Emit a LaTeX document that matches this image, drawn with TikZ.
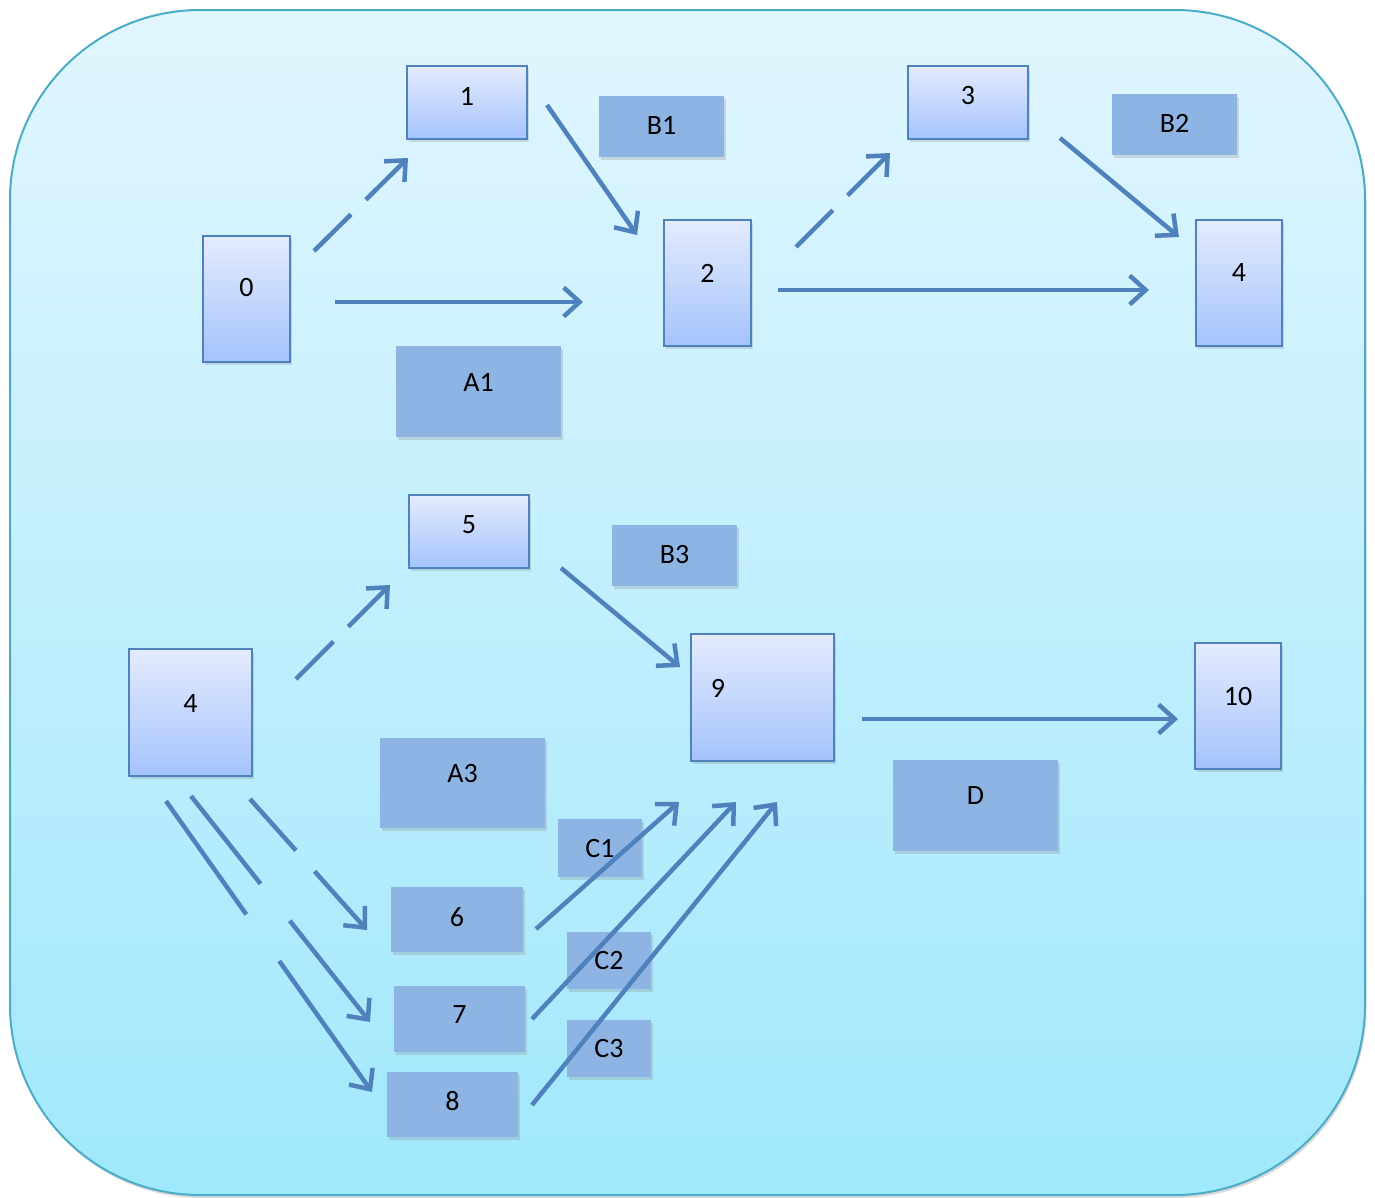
\documentclass[tikz,border=0pt]{standalone}
\usepackage{fontspec}
\setmainfont{Carlito}
\usetikzlibrary{arrows.meta,shadows}
\definecolor{frameline}{RGB}{75,172,198}
\definecolor{frametop}{RGB}{225,246,254}
\definecolor{framebot}{RGB}{160,232,252}
\definecolor{boxline}{RGB}{79,129,189}
\definecolor{boxtop}{RGB}{228,235,254}
\definecolor{boxbot}{RGB}{164,195,252}
\definecolor{flatfill}{RGB}{142,180,227}
\definecolor{arrowblue}{RGB}{79,129,189}
\begin{document}
\begin{tikzpicture}[x=1pt,y=-1pt,
  shd/.style={drop shadow={shadow xshift=1.5pt,shadow yshift=-3pt,opacity=0.25}},
  gbox/.style={draw=boxline, line width=2pt, top color=boxtop, bottom color=boxbot, inner sep=0pt, shd},
  fbox/.style={fill=flatfill, inner sep=0pt, shd},
  lbl/.style={font=\fontsize{28}{33}\selectfont, inner sep=0pt, text=black},
  arr/.style={draw=arrowblue, line width=4.5pt, -{Straight Barb[length=16pt,width=29pt]}}
]
\useasboundingbox (0,0) rectangle (1375,1197);
% frame
\draw[frameline, line width=2pt, top color=frametop, bottom color=framebot,
      rounded corners=190pt, drop shadow={shadow xshift=1.5pt,shadow yshift=-3pt,opacity=0.3}]
  (10,10) rectangle (1365,1195);

% gradient boxes
\node[gbox, minimum width=87pt, minimum height=126pt, label={[lbl,yshift=11pt]center:0}] (n0) at (246.5,299) {};
\node[gbox, minimum width=120pt, minimum height=73pt, label={[lbl,yshift=6.5pt]center:1}] (n1) at (467,102.5) {};
\node[gbox, minimum width=87pt, minimum height=126pt, label={[lbl,yshift=10pt]center:2}] (n2) at (707.5,283) {};
\node[gbox, minimum width=120pt, minimum height=73pt, label={[lbl,yshift=6.5pt]center:3}] (n3) at (968,102.5) {};
\node[gbox, minimum width=86pt, minimum height=126pt, label={[lbl,yshift=10pt]center:4}] (n4) at (1239,283) {};
\node[gbox, minimum width=123pt, minimum height=127pt, label={[lbl,yshift=9.5pt]center:4}] (n4b) at (190.5,712.5) {};
\node[gbox, minimum width=120pt, minimum height=73pt, label={[lbl,yshift=6.5pt]center:5}] (n5) at (469,531.5) {};
\node[gbox, minimum width=143pt, minimum height=127pt, label={[lbl,xshift=-44.5pt,yshift=9.5pt]center:9}] (n9) at (762.5,697.5) {};
\node[gbox, minimum width=86pt, minimum height=126pt, label={[lbl,yshift=10pt]center:10}] (n10) at (1238,706) {};

% flat boxes
\node[fbox, minimum width=165pt, minimum height=91pt, label={[lbl,yshift=9.5pt]center:A1}] (a1) at (478.5,391.5) {};
\node[fbox, minimum width=125pt, minimum height=61pt, label={[lbl,yshift=1.5pt]center:B1}] (b1) at (661.5,126.5) {};
\node[fbox, minimum width=125pt, minimum height=61pt, label={[lbl,yshift=1.5pt]center:B2}] (b2) at (1174.5,124.5) {};
\node[fbox, minimum width=125pt, minimum height=61pt, label={[lbl,yshift=0.5pt]center:B3}] (b3) at (674.5,555.5) {};
\node[fbox, minimum width=165pt, minimum height=90pt, label={[lbl,yshift=9.5pt]center:A3}] (a3) at (462.5,782.5) {};
\node[fbox, minimum width=84pt, minimum height=58pt, label={[lbl]center:C1}] (c1) at (600,848) {};
\node[fbox, minimum width=84pt, minimum height=57pt, label={[lbl]center:C2}] (c2) at (609,960.5) {};
\node[fbox, minimum width=84pt, minimum height=57pt, label={[lbl]center:C3}] (c3) at (609,1048.5) {};
\node[fbox, minimum width=132pt, minimum height=65pt, label={[lbl,yshift=2.5pt]center:6}] (n6) at (457,919.5) {};
\node[fbox, minimum width=131pt, minimum height=66pt, label={[lbl,yshift=4pt]center:7}] (n7) at (459.5,1019) {};
\node[fbox, minimum width=131pt, minimum height=65pt, label={[lbl,yshift=3.5pt]center:8}] (n8) at (452.5,1104.5) {};
\node[fbox, minimum width=165pt, minimum height=91pt, label={[lbl,yshift=9.5pt]center:D}] (dd) at (975.5,805.5) {};

% connector end points
\coordinate (s01) at (314,251);  \coordinate (e01) at (408,158);
\coordinate (s02) at (335,302);  \coordinate (e02) at (583,302);
\coordinate (s12) at (547,105);  \coordinate (e12) at (637,235);
\coordinate (s23) at (796,247);  \coordinate (e23) at (890,153);
\coordinate (s24) at (778,290);  \coordinate (e24) at (1149,290);
\coordinate (s34) at (1060,138); \coordinate (e34) at (1179,237);
\coordinate (s45) at (296,679);  \coordinate (e45) at (390,585);
\coordinate (s59) at (561,568);  \coordinate (e59) at (680,667);
\coordinate (s910) at (862,719); \coordinate (e910) at (1178,719);
\coordinate (s46) at (250,799);  \coordinate (e46) at (367,930);
\coordinate (s47) at (191,796);  \coordinate (e47) at (370,1022);
\coordinate (s48) at (166,801);  \coordinate (e48) at (372,1092);
\coordinate (s69) at (536,929);  \coordinate (e69) at (679,802);
\coordinate (s79) at (532,1019); \coordinate (e79) at (736,802);
\coordinate (s89) at (532,1105); \coordinate (e89) at (777,802);

% connectors
\draw[arr, dash pattern=on 52pt off 21pt on 400pt off 1pt] (s01) -- (e01);
\draw[arr] (s02) -- (e02);
\draw[arr] (s12) -- (e12);
\draw[arr, dash pattern=on 52pt off 21pt on 400pt off 1pt] (s23) -- (e23);
\draw[arr] (s24) -- (e24);
\draw[arr] (s34) -- (e34);
\draw[arr, dash pattern=on 53pt off 21pt on 400pt off 1pt] (s45) -- (e45);
\draw[arr] (s59) -- (e59);
\draw[arr] (s910) -- (e910);
\draw[arr, dash pattern=on 69pt off 28pt on 400pt off 1pt] (s46) -- (e46);
\draw[arr, dash pattern=on 112pt off 47pt on 400pt off 1pt] (s47) -- (e47);
\draw[arr, dash pattern=on 139pt off 57pt on 400pt off 1pt] (s48) -- (e48);
\draw[arr] (s69) -- (e69);
\draw[arr] (s79) -- (e79);
\draw[arr] (s89) -- (e89);
\end{tikzpicture}
\end{document}
